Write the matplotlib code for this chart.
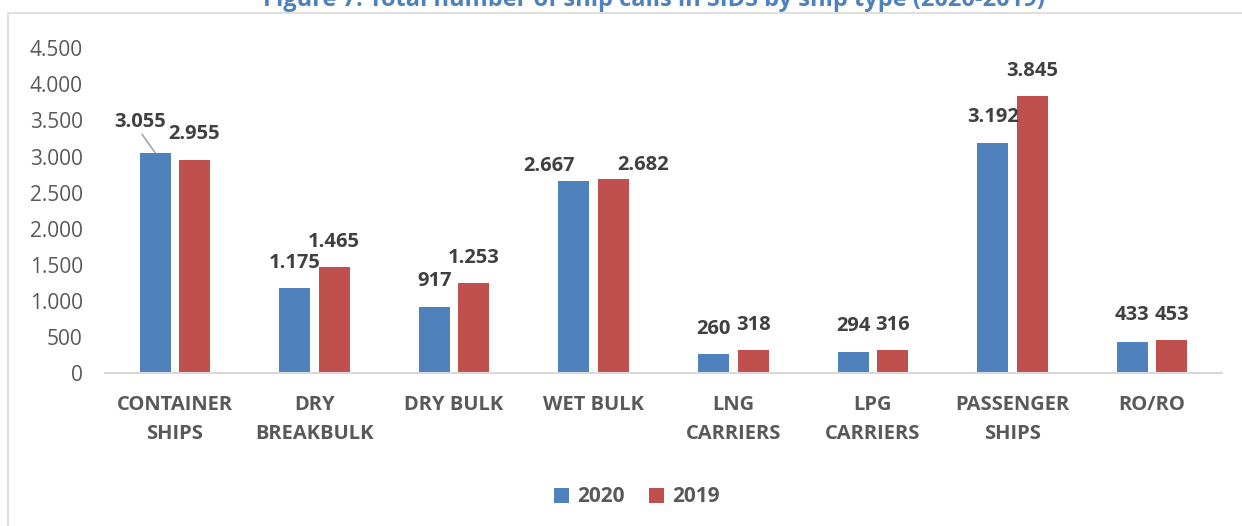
import matplotlib
matplotlib.use("Agg")
import matplotlib.pyplot as plt
from matplotlib.patches import Rectangle

plt.rcParams['font.family'] = ['Open Sans', 'DejaVu Sans']

categories = ["CONTAINER\nSHIPS", "DRY\nBREAKBULK", "DRY BULK", "WET BULK",
              "LNG\nCARRIERS", "LPG\nCARRIERS", "PASSENGER\nSHIPS", "RO/RO"]
values_2020 = [3055, 1175, 917, 2667, 260, 294, 3192, 433]
values_2019 = [2955, 1465, 1253, 2682, 318, 316, 3845, 453]
series_names = ["2020", "2019"]
yticks = [0, 500, 1000, 1500, 2000, 2500, 3000, 3500, 4000, 4500]
ytick_labels = ["0", "500", "1.000", "1.500", "2.000", "2.500", "3.000", "3.500", "4.000", "4.500"]
title = "Figure 7: Total number of ship calls in SIDS by ship type (2020-2019)"

# style: label offsets in pixels (dx, dy) relative to bar top centre
off_2020 = [(-15, 31), (0, 25), (0, 26), (-24.5, 15), (0, 25), (0, 26), (0, 25.5), (0, 27)]
off_2019 = [(0, 25.5), (0, 25), (0, 25), (29.5, 14), (0, 25), (0, 25), (0, 25), (0, 25)]

BLUE = "#4F81BD"
RED = "#C0504D"
TXT = "#595959"
LAB = "#404040"

W, H = 1242, 526
fig = plt.figure(figsize=(W / 100, H / 100), dpi=100)
fig.patch.set_facecolor("white")

# chart border
fig.patches.append(Rectangle((8 / W, -0.1), 1.2, 1 - 13 / H + 0.1, transform=fig.transFigure,
                             fill=False, edgecolor="#D9D9D9", linewidth=1.2))

ax = fig.add_axes([105 / W, 1 - 373 / H, (1222 - 105) / W, (373 - 48.3) / H])
ax.set_ylim(0, 4500)
ax.set_xlim(-0.5, len(categories) - 0.5)

bw = 0.222
sep = 0.1415
xs = list(range(len(categories)))
b1 = ax.bar([x - sep for x in xs], values_2020, width=bw, color=BLUE, label=series_names[0], zorder=3)
b2 = ax.bar([x + sep for x in xs], values_2019, width=bw, color=RED, label=series_names[1], zorder=3)

px = 0.72  # points per pixel
lab_kw = dict(textcoords="offset points", ha="center", va="center", fontsize=14.5,
              fontweight="bold", color=LAB)
for i, (x, v) in enumerate(zip(xs, values_2020)):
    dx, dy = off_2020[i]
    s = f"{v:,}".replace(",", ".")
    if i == 0:
        ax.annotate(s, (x - sep, v), xytext=(dx * px, dy * px),
                    arrowprops=dict(arrowstyle="-", color="#A6A6A6", lw=1.2,
                                    shrinkA=0, shrinkB=0, relpos=(0.5, 0.0)), **lab_kw)
    else:
        ax.annotate(s, (x - sep, v), xytext=(dx * px, dy * px), **lab_kw)
for i, (x, v) in enumerate(zip(xs, values_2019)):
    dx, dy = off_2019[i]
    s = f"{v:,}".replace(",", ".")
    ax.annotate(s, (x + sep, v), xytext=(dx * px, dy * px), **lab_kw)

for sp in ["top", "right", "left"]:
    ax.spines[sp].set_visible(False)
ax.spines["bottom"].set_color("#D9D9D9")
ax.spines["bottom"].set_linewidth(1.5)
ax.spines["bottom"].set_zorder(4)

ax.set_yticks(yticks)
ax.set_yticklabels(ytick_labels)
ax.set_xticks(xs)
ax.set_xticklabels(categories, fontweight="bold", linespacing=1.6)
ax.tick_params(axis="y", length=0, pad=16, labelsize=15, labelcolor=TXT)
ax.tick_params(axis="x", length=0, pad=15.5, labelsize=14.5, labelcolor=TXT)

leg = fig.legend(handles=[b1, b2], labels=series_names, loc="center",
                 bbox_to_anchor=(637 / W, 1 - 497 / H), ncol=2, frameon=False,
                 handlelength=0.7, handleheight=0.7, handletextpad=0.4, columnspacing=1.2,
                 prop=dict(weight="bold", size=15))
for t in leg.get_texts():
    t.set_color(TXT)

fig.text(654 / W, 1 - 6 / H, title, ha="center", va="baseline", fontsize=17,
         fontweight="bold", color=BLUE)

fig.savefig("out.png", dpi=100, facecolor="white")
